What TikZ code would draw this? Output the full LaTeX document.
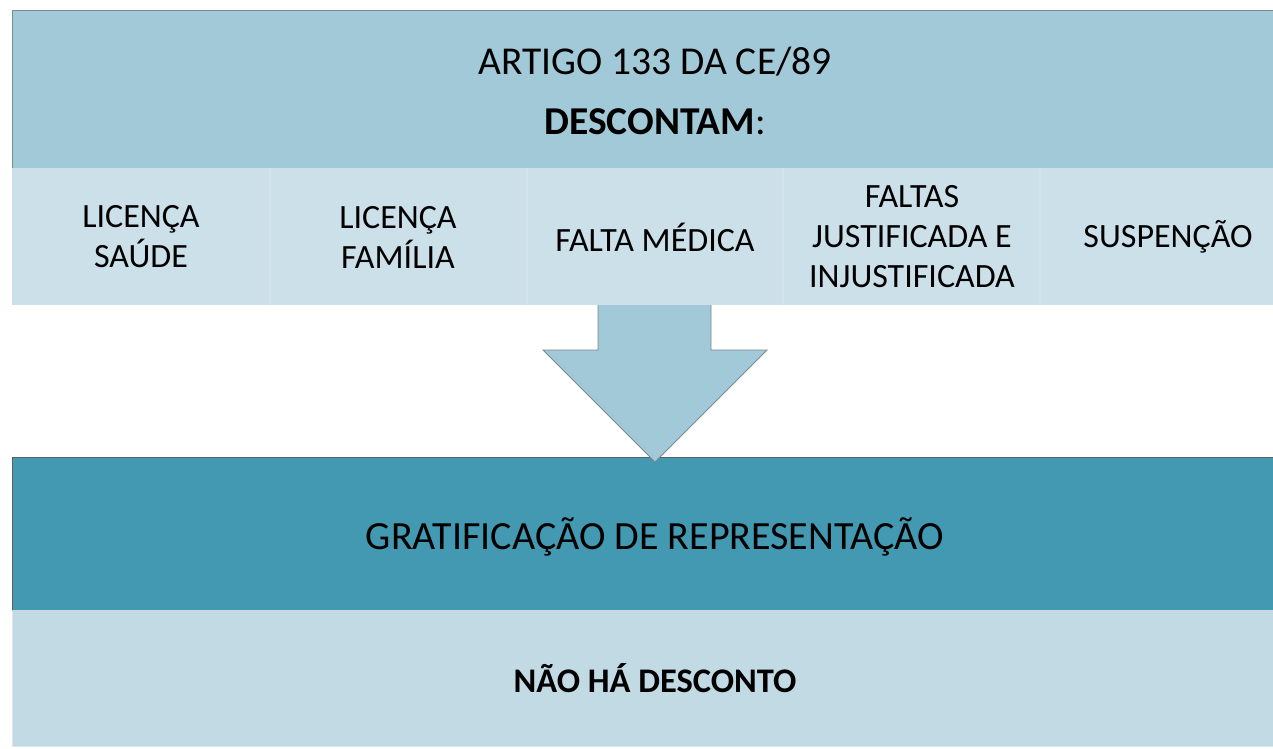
\documentclass[tikz,border=0pt]{standalone}
\usepackage{fontspec}
\setmainfont{Carlito}
\definecolor{topband}{HTML}{A1C9D7}
\definecolor{cellc}{HTML}{CCE0E9}
\definecolor{darkband}{HTML}{4398B2}
\definecolor{lightband}{HTML}{C2DAE4}
\definecolor{edgegray}{HTML}{7A8A90}
\begin{document}
\begin{tikzpicture}[x=1pt,y=-1pt,
  celltext/.style={align=center,font=\fontsize{34}{40}\selectfont,text=black,inner sep=0pt},
  divider/.style={draw=white,opacity=0.12,line width=1.5pt}]
\useasboundingbox (0,0) rectangle (1273,748);
% top band
\fill[topband] (12,10) rectangle (1300,168);
\draw[edgegray,line width=0.8pt] (12,168) -- (12,10) -- (1300,10);
\node[celltext,font=\fontsize{39.5}{46}\selectfont] (title) at (655,62) {ARTIGO 133 DA CE/89};
\node[celltext,font=\fontsize{39.5}{46}\selectfont] (desc) at (655,122) {\textbf{DESCONTAM}:};
% cells
\fill[cellc] (12,168) rectangle (1300,305);
\foreach \xx in {270,527,783,1040} \draw[divider] (\xx,168) -- (\xx,305);
\node[celltext] (c1) at (141,237) {LICENÇA\\SAÚDE};
\node[celltext] (c2) at (398,237) {LICENÇA\\FAMÍLIA};
\node[celltext] (c3) at (655,237) {FALTA MÉDICA};
\node[celltext] (c4) at (912,237) {FALTAS\\JUSTIFICADA E\\INJUSTIFICADA};
\node[celltext] (c5) at (1168,237) {SUSPENÇÃO};
% bottom dark band
\fill[darkband] (12,457) rectangle (1300,610);
\draw[edgegray!70!black,line width=0.8pt] (12,610) -- (12,457) -- (1300,457);
\node[celltext,font=\fontsize{40}{46}\selectfont] (grat) at (655,537) {GRATIFICAÇÃO DE REPRESENTAÇÃO};
% arrow
\filldraw[fill=topband,draw=edgegray,line width=0.8pt,line join=miter]
  (598,305) -- (598,350) -- (543,350) -- (655,462) -- (767,350) -- (711,350) -- (711,305);
% bottom light band
\fill[lightband] (12,610) rectangle (1300,747);
\draw[white,opacity=0.4,line width=1pt] (12.5,611) -- (12.5,746.5) -- (1300,746.5);
\node[celltext,font=\fontsize{34.5}{40}\selectfont\bfseries] (nao) at (655,678) {NÃO HÁ DESCONTO};
\end{tikzpicture}
\end{document}
